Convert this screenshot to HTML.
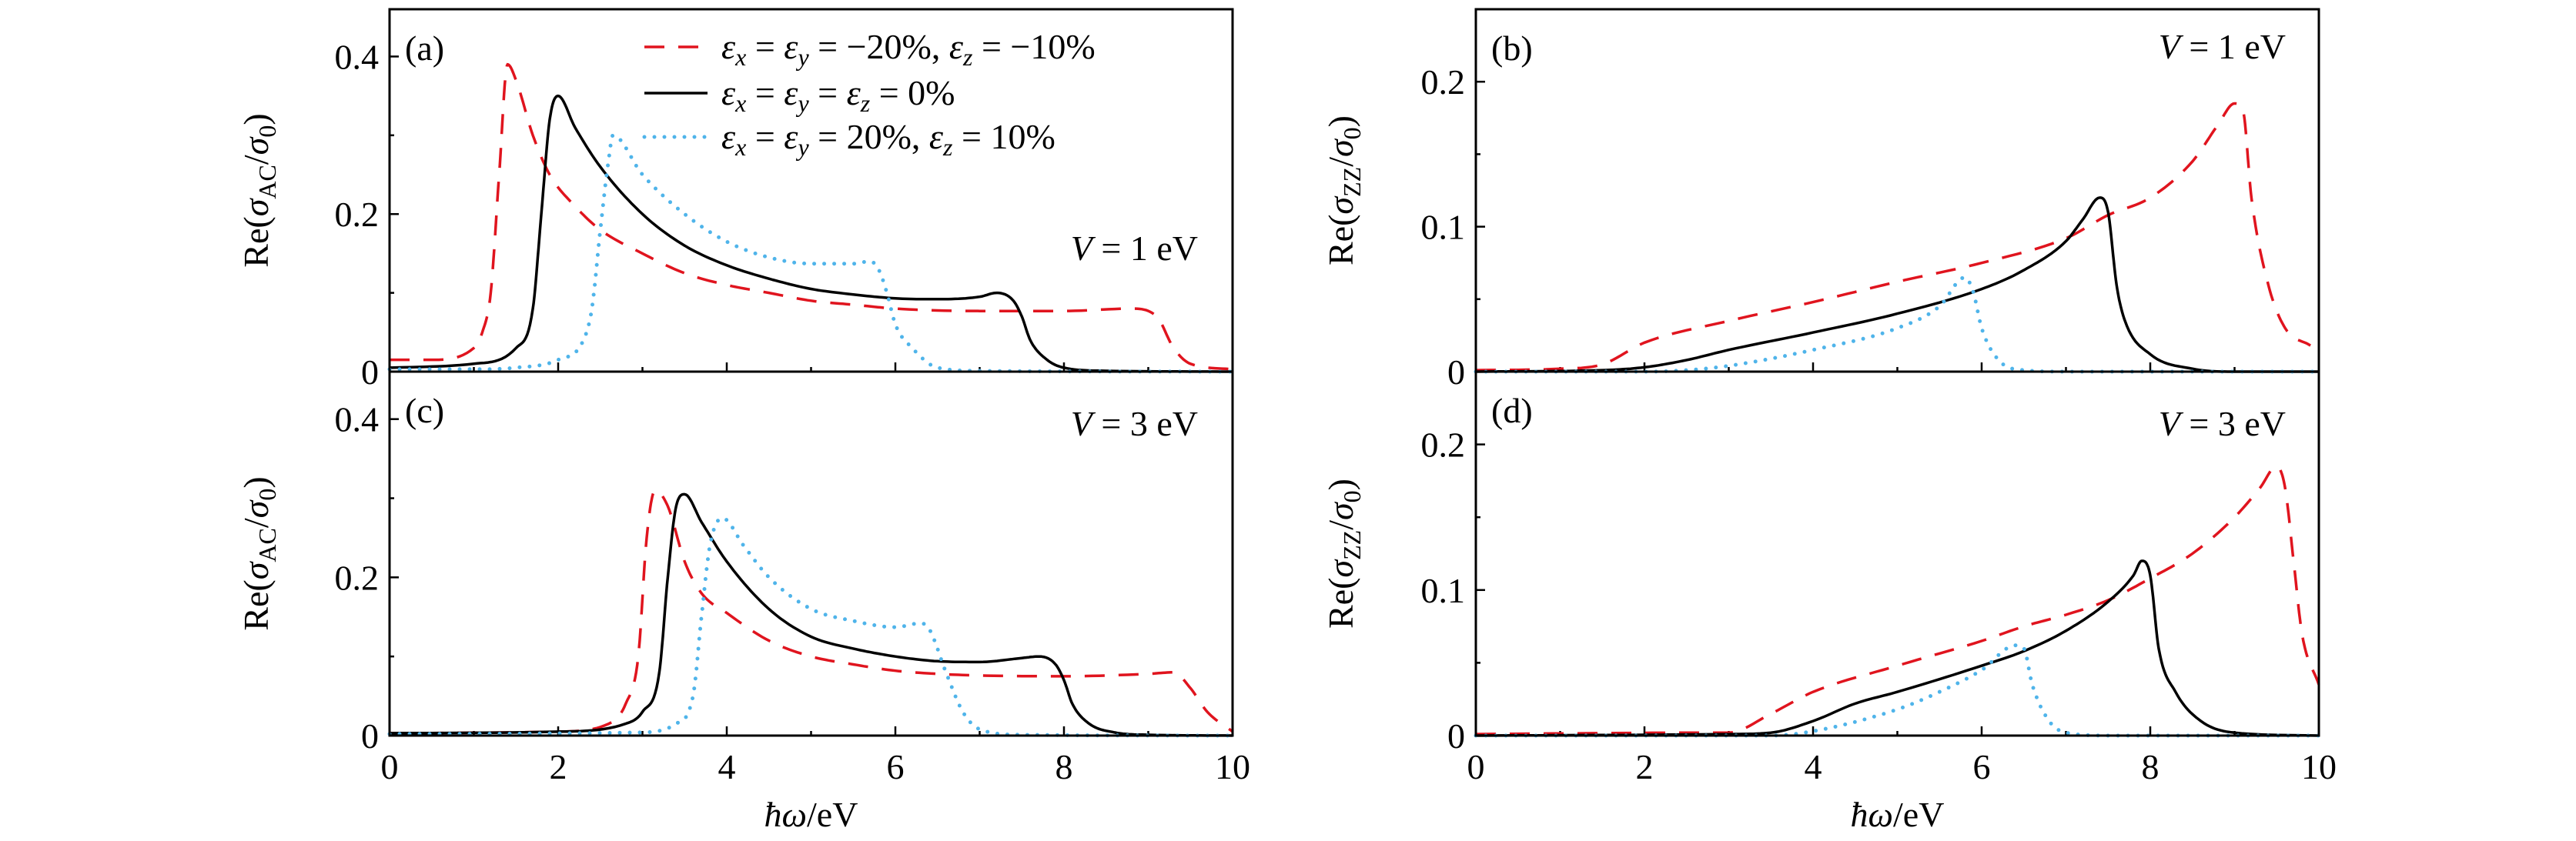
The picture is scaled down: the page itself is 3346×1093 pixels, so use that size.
<!DOCTYPE html>
<html><head><meta charset="utf-8"><style>
html,body{margin:0;padding:0;background:#fff;}
svg{display:block;font-family:"Liberation Serif",serif;}
</style></head><body>
<svg id="fig" width="3346" height="1093" viewBox="0 0 3346 1093" xmlns="http://www.w3.org/2000/svg"></svg>
<script>
// ---- data ----
const aBlackX=[0,1,1.5,1.7,1.8,1.9,2.0,2.2,2.5,3,3.5,4,4.5,5,5.5,6,6.5,7,7.2,7.4,7.5,7.6,7.8,8,8.5,10];
const aBlackY=[0.005,0.01,0.03,0.08,0.2,0.32,0.35,0.31,0.26,0.2,0.16,0.135,0.118,0.105,0.098,0.093,0.092,0.095,0.1,0.09,0.07,0.04,0.015,0.005,0.001,0];
const aRedX=[0,0.5,1,1.1,1.2,1.3,1.4,1.5,1.7,1.9,2.2,2.5,3,3.5,4,4.5,5,5.5,6,7,8,8.8,9.1,9.3,9.5,10];
const aRedY=[0.015,0.015,0.03,0.05,0.1,0.25,0.39,0.37,0.3,0.25,0.21,0.18,0.15,0.125,0.11,0.1,0.09,0.085,0.08,0.077,0.077,0.08,0.07,0.03,0.01,0.003];
const aBlueX=[0,1,1.5,2,2.3,2.4,2.5,2.6,2.65,3,3.5,4,4.5,5,5.5,5.7,5.8,5.9,6,6.2,6.5,7,10];
const aBlueY=[0.003,0.003,0.005,0.015,0.04,0.08,0.18,0.27,0.3,0.25,0.2,0.165,0.145,0.137,0.137,0.14,0.13,0.1,0.06,0.03,0.005,0.001,0];
const cBlackX=[0,2,2.8,3.0,3.2,3.3,3.4,3.5,3.7,4,4.5,5,5.5,6,6.5,7,7.5,7.7,7.9,8,8.1,8.3,8.6,9,10];
const cBlackY=[0.003,0.005,0.015,0.03,0.08,0.2,0.29,0.305,0.27,0.22,0.16,0.125,0.11,0.1,0.094,0.093,0.098,0.1,0.09,0.07,0.04,0.015,0.004,0.001,0];
const cRedX=[0,2,2.6,2.8,2.95,3.05,3.15,3.3,3.5,3.7,4,4.5,5,5.5,6,6.5,7,8,9,9.3,9.5,9.7,10];
const cRedY=[0.003,0.005,0.015,0.04,0.1,0.25,0.31,0.29,0.22,0.18,0.155,0.12,0.1,0.09,0.082,0.078,0.076,0.075,0.078,0.08,0.06,0.03,0.005];
const cBlueX=[0,3,3.4,3.6,3.7,3.8,3.95,4.2,4.5,5,5.5,6,6.3,6.4,6.6,6.8,7,7.5,10];
const cBlueY=[0.002,0.004,0.015,0.05,0.15,0.24,0.275,0.24,0.2,0.16,0.145,0.137,0.142,0.135,0.08,0.03,0.008,0.001,0];
const bBlackX=[0,1.5,2,2.5,3,4,5,6,6.5,7,7.2,7.4,7.5,7.6,7.7,8,8.5,9,10];
const bBlackY=[0,0.001,0.003,0.008,0.015,0.027,0.04,0.057,0.07,0.09,0.105,0.12,0.11,0.06,0.035,0.012,0.002,0,0];
const bRedX=[0,1,1.5,2,3,4,5,6,7,7.5,8,8.5,8.8,9,9.1,9.2,9.4,9.6,9.9];
const bRedY=[0.001,0.002,0.005,0.02,0.035,0.048,0.062,0.075,0.092,0.108,0.12,0.145,0.17,0.185,0.18,0.12,0.06,0.03,0.018];
const bBlueX=[0,2,2.5,3,4,5,5.5,5.8,5.9,6.0,6.2,6.5,7,10];
const bBlueY=[0,0,0.001,0.004,0.015,0.03,0.045,0.065,0.055,0.03,0.008,0.001,0,0];
const dBlackX=[0,3,3.5,4,4.5,5,6,6.5,7,7.5,7.8,7.9,8.0,8.1,8.3,8.6,9,10];
const dBlackY=[0,0.001,0.002,0.01,0.022,0.03,0.048,0.058,0.072,0.092,0.11,0.12,0.11,0.06,0.03,0.01,0.002,0];
const dRedX=[0,2.8,3,3.5,4,5,6,6.5,7,7.5,8,8.5,9,9.3,9.5,9.6,9.7,9.8,10];
const dRedY=[0.001,0.002,0.002,0.015,0.03,0.048,0.065,0.075,0.083,0.093,0.108,0.125,0.15,0.17,0.185,0.17,0.12,0.07,0.035];
const dBlueX=[0,3.5,4,5,5.5,6,6.4,6.5,6.6,6.8,7,7.5,10];
const dBlueY=[0,0,0.003,0.018,0.03,0.045,0.062,0.06,0.035,0.01,0.002,0,0];
const xTicks=[0,2,4,6,8,10];
const acTicks=[0,0.2,0.4];
const zzTicks=[0,0.1,0.2];

const NS="http://www.w3.org/2000/svg";
const svg=document.getElementById('fig');
function el(tag,attrs,parent){const e=document.createElementNS(NS,tag);for(const k in attrs)e.setAttribute(k,attrs[k]);(parent||svg).appendChild(e);return e;}

// monotone cubic (Fritsch-Carlson) sampling
function monotone(X,Y){
 const n=X.length,d=[],m=[];
 for(let i=0;i<n-1;i++)d.push((Y[i+1]-Y[i])/(X[i+1]-X[i]));
 m[0]=d[0];m[n-1]=d[n-2];
 for(let i=1;i<n-1;i++){m[i]=(d[i-1]*d[i]<=0)?0:(d[i-1]+d[i])/2;}
 for(let i=0;i<n-1;i++){
  if(d[i]===0){m[i]=0;m[i+1]=0;continue;}
  const a=m[i]/d[i],b=m[i+1]/d[i],s=a*a+b*b;
  if(s>9){const t=3/Math.sqrt(s);m[i]=t*a*d[i];m[i+1]=t*b*d[i];}
 }
 const out=[];
 for(let i=0;i<n-1;i++){
  const h=X[i+1]-X[i];const N=12;
  for(let j=0;j<N;j++){
   const t=j/N,t2=t*t,t3=t2*t;
   const y=(2*t3-3*t2+1)*Y[i]+(t3-2*t2+t)*h*m[i]+(-2*t3+3*t2)*Y[i+1]+(t3-t2)*h*m[i+1];
   out.push([X[i]+t*h,y]);
  }
 }
 out.push([X[n-1],Y[n-1]]);
 return out;
}

const panels=[
 {id:'a',x0:506,x1:1601,y0:12,y1:483,ymax:0.46,major:0.2,minor:0.1,ticks:acTicks,bl:aBlackX,blY:aBlackY,rx:aRedX,ry:aRedY,ux:aBlueX,uy:aBlueY,V:'1',showX:false,yl:'AC',lx:348},
 {id:'c',x0:506,x1:1601,y0:483,y1:956,ymax:0.46,major:0.2,minor:0.1,ticks:acTicks,bl:cBlackX,blY:cBlackY,rx:cRedX,ry:cRedY,ux:cBlueX,uy:cBlueY,V:'3',showX:true,yl:'AC',lx:348},
 {id:'b',x0:1917,x1:3012,y0:12,y1:483,ymax:0.25,major:0.1,minor:0.05,ticks:zzTicks,bl:bBlackX,blY:bBlackY,rx:bRedX,ry:bRedY,ux:bBlueX,uy:bBlueY,V:'1',showX:false,yl:'ZZ',lx:1757},
 {id:'d',x0:1917,x1:3012,y0:483,y1:956,ymax:0.25,major:0.1,minor:0.05,ticks:zzTicks,bl:dBlackX,blY:dBlackY,rx:dRedX,ry:dRedY,ux:dBlueX,uy:dBlueY,V:'3',showX:true,yl:'ZZ',lx:1757}
];

panels.forEach(p=>{
 const g=el('g',{});
 
 
 const sx=v=>p.x0+(p.x1-p.x0)*v/10;
 const sy=v=>p.y1-(p.y1-p.y0)*v/p.ymax;
 for(let v=0;v<=10;v++){
  const len=(v%2===0)?12:6;
  const t=el('line',{x1:sx(v),x2:sx(v),y1:p.y1,y2:p.y1-len,stroke:'#000','stroke-width':2.5},g);
  
  
 }
 for(let k=0;k*p.minor<=p.ymax+1e-9;k++){
  const v=k*p.minor;const isMaj=Math.abs(v/p.major-Math.round(v/p.major))<1e-6;
  const t=el('line',{x1:p.x0,x2:p.x0+(isMaj?12:6),y1:sy(v),y2:sy(v),stroke:'#000','stroke-width':2.5},g);
  
  
 }
 p.ticks.forEach(v=>{
  const t=el('text',{x:p.x0-14,y:sy(v)+16,'text-anchor':'end','font-size':46},g);
  t.textContent=(v===0?'0':v.toFixed(1));
  
  
 });
 if(p.showX){
  xTicks.forEach(v=>{
   const t=el('text',{x:sx(v),y:1012,'text-anchor':'middle','font-size':46},g);
   t.textContent=String(v);
   
   
  });
  const xl=el('text',{x:(p.x0+p.x1)/2,y:1074,'text-anchor':'middle','font-size':46},g);
  xl.innerHTML='<tspan font-style="italic">ħω</tspan>/eV';
  
  
 }
 const yc=(p.y0+p.y1)/2;
 const yl=el('text',{x:p.lx,y:yc,'text-anchor':'middle','font-size':46,transform:'rotate(-90 '+p.lx+' '+yc+')'},g);
 yl.innerHTML='Re(<tspan font-style="italic">σ</tspan><tspan font-size="32" dy="10">'+p.yl+'</tspan><tspan dy="-10">/</tspan><tspan font-style="italic">σ</tspan><tspan font-size="32" dy="10">0</tspan><tspan dy="-10">)</tspan>';
 
 
 const pts=(X,Y)=>monotone(X,Y).map(q=>sx(q[0]).toFixed(1)+','+sy(Math.max(0,q[1])).toFixed(1)).join(' ');
 const r=el('polyline',{points:pts(p.rx,p.ry),fill:'none',stroke:'#e0141e','stroke-width':3.5,'stroke-dasharray':'26 18'},g);
 
 
 const k=el('polyline',{points:pts(p.bl,p.blY),fill:'none',stroke:'#000','stroke-width':3.5,'stroke-linejoin':'round'},g);
 
 
 const b=el('polyline',{points:pts(p.ux,p.uy),fill:'none',stroke:'#4fb4ea','stroke-width':5,'stroke-dasharray':'0 13','stroke-linecap':'round'},g);
 
 
 const f=el('rect',{x:p.x0,y:p.y0,width:p.x1-p.x0,height:p.y1-p.y0,fill:'none',stroke:'#000','stroke-width':3},g);
 
 
 const isLeft=p.x0<1000;
 const lbTop=(p.y0<100);
 const lab=el('text',{x:p.x0+20,y:p.y0+(lbTop?66:66),'font-size':46},g);
 lab.textContent='('+p.id+')';
 
 
 let vy;
 if(p.id==='a') vy=338; else if(p.id==='b') vy=76; else vy=566;
 const vx=(isLeft?1556:2969);
 const vt=el('text',{x:vx,y:vy,'text-anchor':'end','font-size':46},g);
 vt.innerHTML='<tspan font-style="italic">V</tspan> = '+p.V+' eV';
 
 
});

const leg=el('g',{});


const sub=(c)=>'<tspan font-style="italic">ε</tspan><tspan font-size="32" dy="9" font-style="italic">'+c+'</tspan>';
const legItems=[
 {y:61,stroke:'#e0141e',dash:'26 18',w:3.5,cap:'butt',html:sub('x')+'<tspan dy="-9"> = </tspan>'+sub('y')+'<tspan dy="-9"> = −20%, </tspan>'+sub('z')+'<tspan dy="-9"> = −10%</tspan>'},
 {y:121,stroke:'#000',dash:'none',w:3.5,cap:'butt',html:sub('x')+'<tspan dy="-9"> = </tspan>'+sub('y')+'<tspan dy="-9"> = </tspan>'+sub('z')+'<tspan dy="-9"> = 0%</tspan>'},
 {y:178,stroke:'#4fb4ea',dash:'0 13',w:5,cap:'round',html:sub('x')+'<tspan dy="-9"> = </tspan>'+sub('y')+'<tspan dy="-9"> = 20%, </tspan>'+sub('z')+'<tspan dy="-9"> = 10%</tspan>'}
];
legItems.forEach(it=>{
 const ln=el('line',{x1:837,x2:919,y1:it.y,y2:it.y,stroke:it.stroke,'stroke-width':it.w,'stroke-dasharray':it.dash,'stroke-linecap':it.cap},leg);
 
 
 const t=el('text',{x:937,y:it.y+15,'font-size':46},leg);
 t.innerHTML=it.html;
 
 
});
</script>
</body></html>
